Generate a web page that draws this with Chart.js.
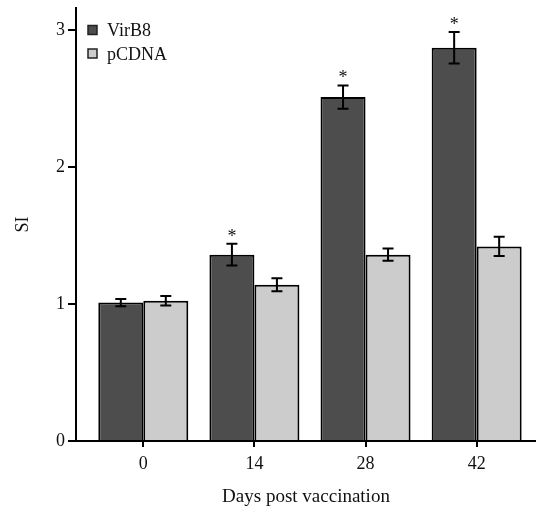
<!DOCTYPE html>
<html>
<head>
<meta charset="utf-8">
<script src="https://cdn.jsdelivr.net/npm/chart.js@4/dist/chart.umd.min.js"></script>
<style>
  body { margin: 0; background: #fff; }
</style>
</head>
<body>
<canvas id="siChart" width="536" height="510"></canvas>
<script>
// SI per time point
const days = ['0', '14', '28', '42'];
const virb8 = [1.01, 1.36, 2.51, 2.87];
const virb8Err = [0.027, 0.08, 0.085, 0.115];
const virb8Sig = [false, true, true, true];
const pcdna = [1.024, 1.14, 1.36, 1.42];
const pcdnaErr = [0.035, 0.047, 0.045, 0.07];
const pcdnaSig = [false, false, false, false];

const serif = '"Liberation Serif", "Times New Roman", serif';
const ink = '#111';

// error bars + significance stars
const errorBars = {
    id: 'errorBars',
    afterDatasetsDraw(chart) {
        const ctx = chart.ctx;
        const yScale = chart.scales.y;
        ctx.save();
        chart.data.datasets.forEach((ds, di) => {
            const meta = chart.getDatasetMeta(di);
            meta.data.forEach((bar, i) => {
                const v = ds.data[i].y;
                const e = ds.errors[i];
                const top = yScale.getPixelForValue(v + e);
                const bot = yScale.getPixelForValue(v - e);
                ctx.strokeStyle = '#000';
                ctx.lineWidth = 2;
                ctx.beginPath();
                ctx.moveTo(bar.x, top);
                ctx.lineTo(bar.x, bot);
                ctx.moveTo(bar.x - 5.5, top);
                ctx.lineTo(bar.x + 5.5, top);
                ctx.moveTo(bar.x - 5.5, bot);
                ctx.lineTo(bar.x + 5.5, bot);
                ctx.stroke();
                if (ds.sig[i]) {
                    ctx.fillStyle = ink;
                    ctx.font = '18px ' + serif;
                    ctx.textAlign = 'center';
                    ctx.textBaseline = 'alphabetic';
                    ctx.fillText('*', bar.x, top - 2);
                }
            });
        });
        ctx.restore();
    }
};

// legend in the top-left corner of the plot
const cornerLegend = {
    id: 'cornerLegend',
    afterDraw(chart) {
        const ctx = chart.ctx;
        const x0 = chart.chartArea.left + 12;
        ctx.save();
        ctx.font = '18px ' + serif;
        ctx.textAlign = 'left';
        ctx.textBaseline = 'alphabetic';
        chart.data.datasets.forEach((ds, i) => {
            const cy = 30 + i * 23.5;
            ctx.fillStyle = ds.backgroundColor;
            ctx.fillRect(x0, cy - 4.5, 9, 9);
            ctx.strokeStyle = '#222';
            ctx.lineWidth = 1.5;
            ctx.strokeRect(x0, cy - 4.5, 9, 9);
            ctx.fillStyle = ink;
            ctx.fillText(ds.label, x0 + 19, cy + 6);
        });
        ctx.restore();
    }
};

const ctx = document.getElementById('siChart').getContext('2d');

new Chart(ctx, {
    type: 'bar',
    data: {
        datasets: [{
            label: 'VirB8',
            data: days.map((d, i) => ({ x: i, y: virb8[i] })),
            errors: virb8Err,
            sig: virb8Sig,
            backgroundColor: '#4d4d4d',
            borderColor: '#000',
            borderWidth: 2
        }, {
            label: 'pCDNA',
            data: days.map((d, i) => ({ x: i, y: pcdna[i] })),
            errors: pcdnaErr,
            sig: pcdnaSig,
            backgroundColor: '#cccccc',
            borderColor: '#000',
            borderWidth: 2
        }]
    },
    options: {
        responsive: false,
        animation: false,
        categoryPercentage: 0.81,
        barPercentage: 1,
        layout: {
            padding: { top: 8, right: 0, left: 0, bottom: 0 }
        },
        plugins: {
            legend: { display: false },
            tooltip: { enabled: false }
        },
        scales: {
            x: {
                type: 'linear',
                offset: false,
                min: -0.6056,
                max: 3.534,
                afterBuildTicks: (scale) => {
                    scale.ticks = days.map((d, i) => ({ value: i }));
                },
                afterFit: (scale) => { scale.height = 69; },
                ticks: {
                    callback: (v) => days[v],
                    color: ink,
                    font: { family: serif, size: 18 },
                    padding: 6
                },
                grid: {
                    offset: false,
                    drawOnChartArea: false,
                    tickLength: 6,
                    color: '#000',
                    lineWidth: 2
                },
                border: { color: '#000', width: 2 },
                title: {
                    display: true,
                    text: 'Days post vaccination',
                    color: ink,
                    font: { family: serif, size: 19 },
                    padding: { top: 0, bottom: 2 }
                }
            },
            y: {
                min: 0,
                max: 3.16,
                afterFit: (scale) => {
                    scale.width = 76;
                    scale.paddingTop = 0;
                    scale.paddingBottom = 0;
                },
                ticks: {
                    stepSize: 1,
                    includeBounds: false,
                    color: ink,
                    font: { family: serif, size: 18 },
                    padding: 3
                },
                grid: {
                    drawOnChartArea: false,
                    tickLength: 8,
                    color: '#000',
                    lineWidth: 2
                },
                border: { color: '#000', width: 2 },
                title: {
                    display: true,
                    text: 'SI',
                    color: ink,
                    font: { family: serif, size: 18 },
                    padding: { top: 12, bottom: 0 }
                }
            }
        }
    },
    plugins: [errorBars, cornerLegend]
});
</script>
</body>
</html>
